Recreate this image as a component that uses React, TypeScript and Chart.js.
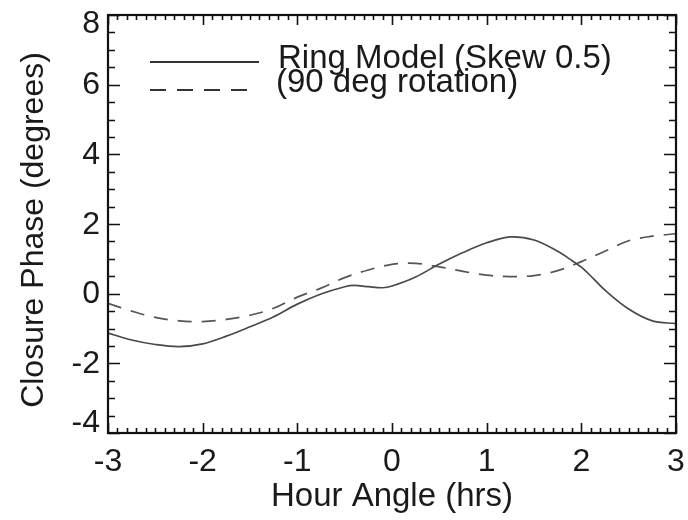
import React, { useEffect, useRef } from 'react';
import { Chart, registerables } from 'chart.js';

Chart.register(...registerables);

// ---- data ----
const ringHours = [-3, -2.75, -2.5, -2.25, -2, -1.75, -1.5, -1.25, -1, -0.75, -0.5, -0.4, -0.25, -0.1, 0, 0.25, 0.5, 0.75, 1, 1.25, 1.5, 1.75, 1.875, 2, 2.125, 2.25, 2.5, 2.75, 3];
const ringModel = [-1.13, -1.33, -1.46, -1.52, -1.44, -1.22, -0.95, -0.66, -0.3, -0.01, 0.2, 0.24, 0.2, 0.17, 0.22, 0.48, 0.85, 1.18, 1.46, 1.63, 1.54, 1.22, 1.0, 0.76, 0.44, 0.1, -0.44, -0.78, -0.86];

const rotHours = [-3, -2.75, -2.5, -2.25, -2, -1.75, -1.5, -1.25, -1, -0.75, -0.5, -0.25, 0, 0.25, 0.5, 0.75, 1, 1.25, 1.5, 1.75, 2, 2.25, 2.5, 2.75, 3];
const rotated90 = [-0.28, -0.5, -0.68, -0.78, -0.8, -0.74, -0.62, -0.42, -0.1, 0.16, 0.46, 0.68, 0.84, 0.87, 0.77, 0.64, 0.53, 0.49, 0.52, 0.66, 0.92, 1.22, 1.52, 1.65, 1.72];

const xTickValues = [-3, -2, -1, 0, 1, 2, 3];
const yTickValues = [-4, -2, 0, 2, 4, 6, 8];
const legendLabels = ['Ring Model (Skew 0.5)', '(90 deg rotation)'];
const xTitle = 'Hour Angle (hrs)';
const yTitle = 'Closure Phase (degrees)';

const FONT = '"Liberation Sans", Arial, Helvetica, sans-serif';
const TEXT = '#1a1a1a';

const framePlugin = {
  id: 'frame',
  afterDraw(chart: any) {
    const { ctx, chartArea } = chart;
    const { left, right, top, bottom } = chartArea;
    const xs = chart.scales.x;
    const ys = chart.scales.y;
    ctx.save();
    ctx.strokeStyle = '#111';
    ctx.lineCap = 'butt';
    // ticks (inward, mirrored)
    ctx.lineWidth = 1.6;
    const xMinor = 0.1;
    const nx = Math.round((xs.max - xs.min) / xMinor);
    for (let i = 0; i <= nx; i++) {
      const v = xs.min + i * xMinor;
      const px = Math.round(xs.getPixelForValue(v)) + 0.5;
      const major = i % 10 === 0;
      const len = major ? 10 : 5;
      ctx.beginPath();
      ctx.moveTo(px, bottom);
      ctx.lineTo(px, bottom - len);
      ctx.moveTo(px, top);
      ctx.lineTo(px, top + len);
      ctx.stroke();
    }
    const yMinor = 0.5;
    const ny = Math.round((ys.max - ys.min) / yMinor);
    for (let i = 0; i <= ny; i++) {
      const v = ys.min + i * yMinor;
      const py = Math.round(ys.getPixelForValue(v)) + 0.5;
      const major = i % 4 === 0;
      const len = major ? 12 : 7;
      ctx.beginPath();
      ctx.moveTo(left, py);
      ctx.lineTo(left + len, py);
      ctx.moveTo(right, py);
      ctx.lineTo(right - len, py);
      ctx.stroke();
    }
    // frame
    ctx.lineWidth = 2.2;
    ctx.strokeRect(left, top, right - left, bottom - top);

    // y tick labels (end labels kept inside the frame like the original)
    ctx.fillStyle = TEXT;
    ctx.font = `32px ${FONT}`;
    ctx.textAlign = 'right';
    ctx.textBaseline = 'middle';
    yTickValues.forEach((v) => {
      let py = ys.getPixelForValue(v);
      if (py < top + 8) py = top + 8;
      if (py > bottom - 11) py = bottom - 11;
      ctx.fillText(String(v), left - 8, py + 1);
    });

    // y title
    ctx.save();
    ctx.translate(34, (top + bottom) / 2 + 6);
    ctx.rotate(-Math.PI / 2);
    ctx.textAlign = 'center';
    ctx.textBaseline = 'middle';
    ctx.font = `32px ${FONT}`;
    ctx.fillText(yTitle, 0, 0);
    ctx.restore();

    // legend
    ctx.strokeStyle = '#333';
    ctx.lineWidth = 2.2;
    ctx.beginPath();
    ctx.moveTo(150, 62);
    ctx.lineTo(259, 62);
    ctx.stroke();
    ctx.setLineDash([16, 11]);
    ctx.beginPath();
    ctx.moveTo(150, 90);
    ctx.lineTo(248, 90);
    ctx.stroke();
    ctx.setLineDash([]);
    ctx.font = `33px ${FONT}`;
    ctx.textAlign = 'left';
    ctx.textBaseline = 'alphabetic';
    ctx.fillText(legendLabels[0], 278, 68);
    ctx.fillText(legendLabels[1], 276, 92);
    ctx.restore();
  },
};

export default function App() {
  const ref = useRef<HTMLCanvasElement>(null);
  useEffect(() => {
    if (!ref.current) return;
    const chart = new Chart(ref.current, {
      type: 'line',
      data: {
        datasets: [
          {
            label: legendLabels[0],
            data: ringHours.map((h, i) => ({ x: h, y: ringModel[i] })),
            borderColor: '#4a4a4a',
            borderWidth: 1.7,
            pointRadius: 0,
            tension: 0.35,
            fill: false,
          },
          {
            label: legendLabels[1],
            data: rotHours.map((h, i) => ({ x: h, y: rotated90[i] })),
            borderColor: '#555',
            borderWidth: 1.7,
            borderDash: [14, 10],
            pointRadius: 0,
            tension: 0.35,
            fill: false,
          },
        ],
      },
      options: {
        animation: false,
        responsive: true,
        maintainAspectRatio: false,
        devicePixelRatio: 1,
        layout: { padding: { top: 15, right: 12, left: 0, bottom: 0 } },
        plugins: { legend: { display: false }, tooltip: { enabled: false } },
        scales: {
          x: {
            type: 'linear',
            min: -3,
            max: 3,
            afterBuildTicks: (s: any) => {
              s.ticks = xTickValues.map((v) => ({ value: v }));
            },
            afterFit: (s: any) => {
              s.height = 87;
              s.paddingLeft = 0;
              s.paddingRight = 0;
            },
            grid: { display: false, drawTicks: false },
            border: { display: false },
            ticks: {
              color: TEXT,
              font: { family: FONT, size: 32 },
              padding: 10,
              maxRotation: 0,
              autoSkip: false,
            },
            title: {
              display: true,
              text: xTitle,
              color: TEXT,
              font: { family: FONT, size: 33 },
              padding: { top: 0, bottom: 3 },
            },
          },
          y: {
            type: 'linear',
            min: -4,
            max: 8,
            afterBuildTicks: (s: any) => {
              s.ticks = yTickValues.map((v) => ({ value: v }));
            },
            afterFit: (s: any) => {
              s.width = 108;
              s.paddingTop = 0;
              s.paddingBottom = 0;
            },
            grid: { display: false, drawTicks: false },
            border: { display: false },
            ticks: { display: false },
            title: { display: false },
          },
        },
      },
      plugins: [framePlugin],
    } as any);
    return () => chart.destroy();
  }, []);
  return (
    <div style={{ position: 'absolute', left: 0, top: 0, width: 688, height: 520, background: '#fff' }}>
      <canvas ref={ref} />
    </div>
  );
}
